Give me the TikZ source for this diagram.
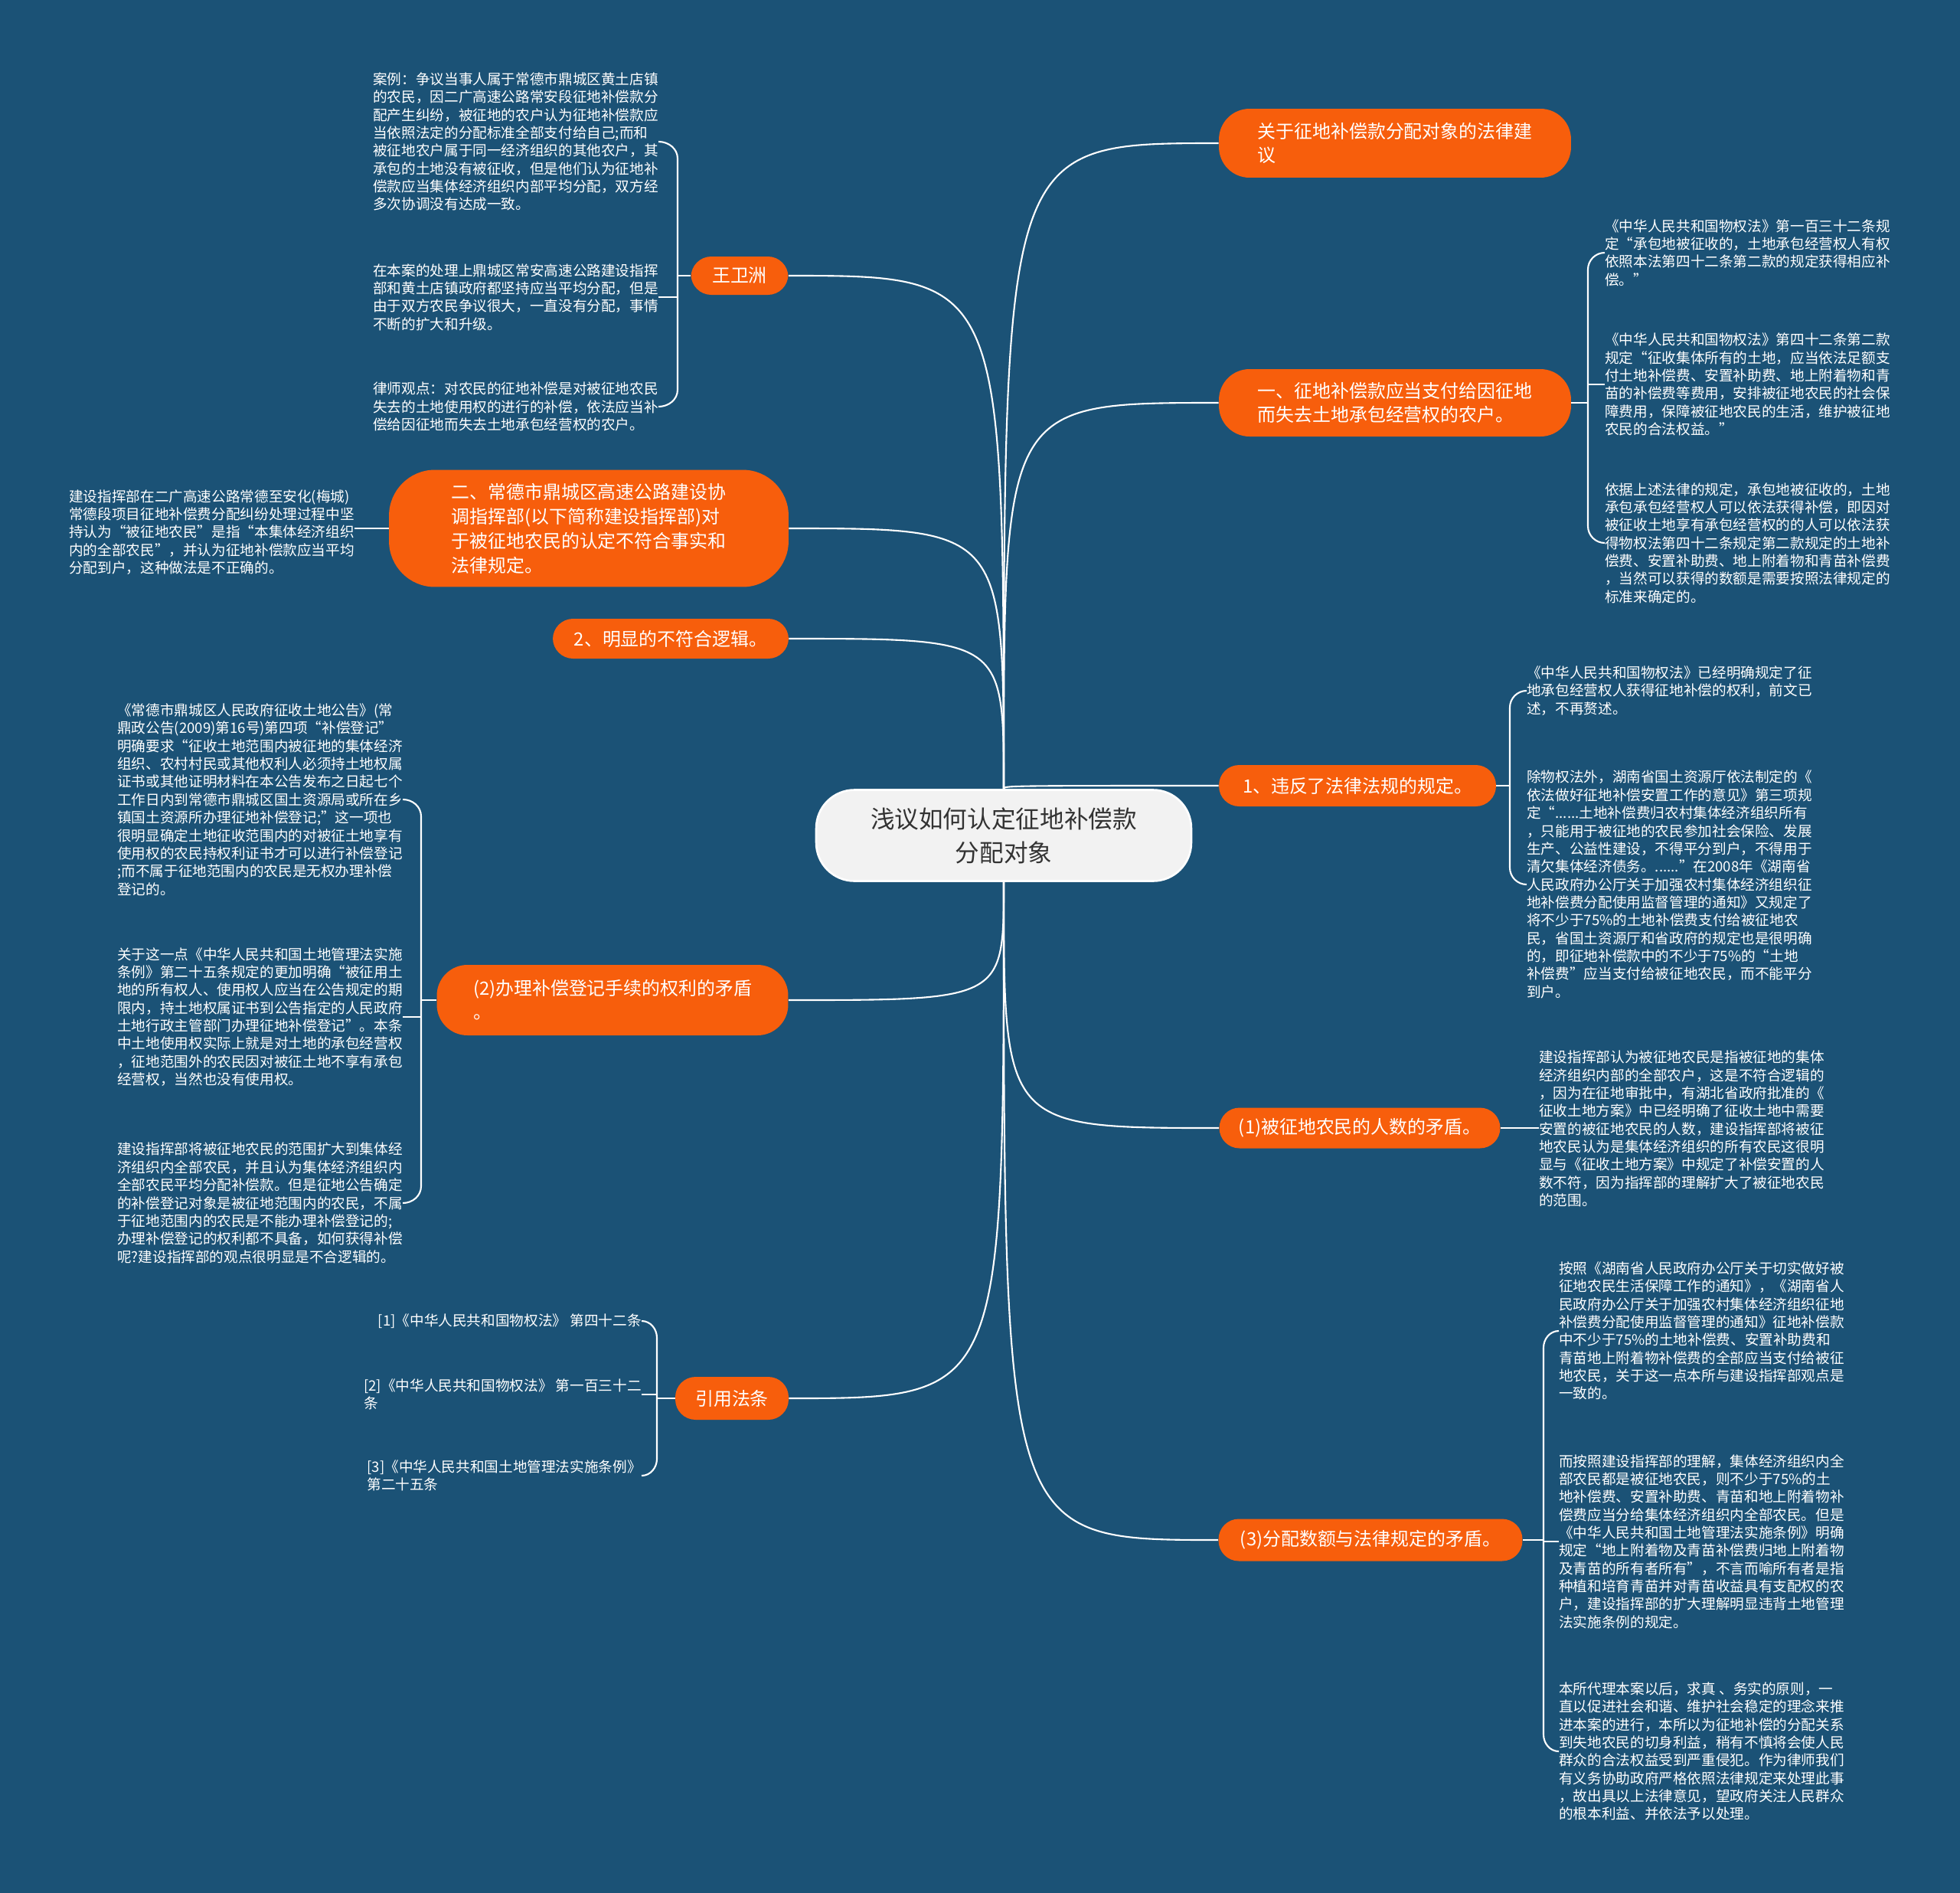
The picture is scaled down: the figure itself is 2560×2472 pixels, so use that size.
\documentclass[tikz,border=0pt]{standalone}
\usepackage{fontspec}
\setmainfont{Noto Sans CJK SC}
\usepackage{tikz}
\usetikzlibrary{calc,backgrounds}

\definecolor{bgblue}{RGB}{27,82,118}
\definecolor{topicorange}{RGB}{247,94,12}
\definecolor{rootgray}{RGB}{242,242,242}
\definecolor{roottext}{RGB}{51,51,51}

\begin{document}
\begin{tikzpicture}[x=0.02cm,y=-0.02cm,
  root/.style={draw=white,line width=1.5pt,fill=rootgray,text=roottext,rounded corners=1cm,align=center,inner sep=0pt,font=\fontsize{18}{25}\selectfont},
  topic/.style={fill=topicorange,text=white,rounded corners=0.53cm,align=left,inner sep=0pt,font=\fontsize{13.6}{17.6}\selectfont},
  leaf/.style={text=white,align=left,inner sep=0pt,font=\fontsize{10.6}{13.3}\selectfont},
  link/.style={draw=white,line width=1.2pt}]

\useasboundingbox (0,0) rectangle (2560,2472);

% centre
\node[root,minimum width=9.8cm,minimum height=2.38cm] (root) at (1311,1091) {浅议如何认定征地补偿款\\分配对象};

% right topics
\node[topic,rounded corners=0.8cm,minimum width=9.2cm,minimum height=1.8cm] (quan) at (1822,187) {关于征地补偿款分配对象的法律建\\议};
\node[topic,rounded corners=0.8cm,minimum width=9.2cm,minimum height=1.76cm] (yi) at (1822,526) {一、征地补偿款应当支付给因征地\\而失去土地承包经营权的农户。};
\node[topic,minimum width=7.24cm,minimum height=1.08cm] (wf) at (1773,1026) {1、违反了法律法规的规定。};
\node[topic,minimum width=7.34cm,minimum height=1.06cm] (rs) at (1776,1473) {(1)被征地农民的人数的矛盾。};
\node[topic,minimum width=7.94cm,minimum height=1.1cm] (fp) at (1790,2011) {(3)分配数额与法律规定的矛盾。};

% left topics
\node[topic,minimum width=2.54cm,minimum height=1cm] (wang) at (966,360) {王卫洲};
\node[topic,rounded corners=1.2cm,minimum width=10.44cm,minimum height=3.06cm,font=\fontsize{13.6}{18.2}\selectfont] (er) at (769,690) {二、常德市鼎城区高速公路建设协\\调指挥部(以下简称建设指挥部)对\\于被征地农民的认定不符合事实和\\法律规定。};
\node[topic,minimum width=6.16cm,minimum height=1.04cm] (lj) at (876,834) {2、明显的不符合逻辑。};
\node[topic,rounded corners=0.8cm,minimum width=9.18cm,minimum height=1.84cm] (ql) at (800,1306) {(2)办理补偿登记手续的权利的矛盾\\。};
\node[topic,minimum width=2.96cm,minimum height=1.12cm] (yy) at (956,1826) {引用法条};

% leaves of 王卫洲
\node[leaf,anchor=west] (w1) at (487,185) {案例：争议当事人属于常德市鼎城区黄土店镇\\
的农民，因二广高速公路常安段征地补偿款分\\
配产生纠纷，被征地的农户认为征地补偿款应\\
当依照法定的分配标准全部支付给自己;而和\\
被征地农户属于同一经济组织的其他农户，其\\
承包的土地没有被征收，但是他们认为征地补\\
偿款应当集体经济组织内部平均分配，双方经\\
多次协调没有达成一致。};
\node[leaf,anchor=west] (w2) at (487,388) {在本案的处理上鼎城区常安高速公路建设指挥\\
部和黄土店镇政府都坚持应当平均分配，但是\\
由于双方农民争议很大，一直没有分配，事情\\
不断的扩大和升级。};
\node[leaf,anchor=west] (w3) at (487,531) {律师观点：对农民的征地补偿是对被征地农民\\
失去的土地使用权的进行的补偿，依法应当补\\
偿给因征地而失去土地承包经营权的农户。};

% leaf of 二
\node[leaf,anchor=west] (e1) at (90,695) {建设指挥部在二广高速公路常德至安化(梅城)\\
常德段项目征地补偿费分配纠纷处理过程中坚\\
持认为“被征地农民”是指“本集体经济组织\\
内的全部农民”，并认为征地补偿款应当平均\\
分配到户，这种做法是不正确的。};

% leaves of (2)
\node[leaf,anchor=west] (q1) at (153,1044) {《常德市鼎城区人民政府征收土地公告》(常\\
鼎政公告(2009)第16号)第四项“补偿登记”\\
明确要求“征收土地范围内被征地的集体经济\\
组织、农村村民或其他权利人必须持土地权属\\
证书或其他证明材料在本公告发布之日起七个\\
工作日内到常德市鼎城区国土资源局或所在乡\\
镇国土资源所办理征地补偿登记;”这一项也\\
很明显确定土地征收范围内的对被征土地享有\\
使用权的农民持权利证书才可以进行补偿登记\\
;而不属于征地范围内的农民是无权办理补偿\\
登记的。};
\node[leaf,anchor=west] (q2) at (153,1328) {关于这一点《中华人民共和国土地管理法实施\\
条例》第二十五条规定的更加明确“被征用土\\
地的所有权人、使用权人应当在公告规定的期\\
限内，持土地权属证书到公告指定的人民政府\\
土地行政主管部门办理征地补偿登记”。本条\\
中土地使用权实际上就是对土地的承包经营权\\
，征地范围外的农民因对被征土地不享有承包\\
经营权，当然也没有使用权。};
\node[leaf,anchor=west] (q3) at (153,1571) {建设指挥部将被征地农民的范围扩大到集体经\\
济组织内全部农民，并且认为集体经济组织内\\
全部农民平均分配补偿款。但是征地公告确定\\
的补偿登记对象是被征地范围内的农民，不属\\
于征地范围内的农民是不能办理补偿登记的;\\
办理补偿登记的权利都不具备，如何获得补偿\\
呢?建设指挥部的观点很明显是不合逻辑的。};

% leaves of 引用法条
\node[leaf,anchor=east] (y1) at (838,1725) {[1]《中华人民共和国物权法》 第四十二条};
\node[leaf,anchor=east] (y2) at (838,1821) {[2]《中华人民共和国物权法》 第一百三十二\\条};
\node[leaf,anchor=east] (y3) at (838,1927) {[3]《中华人民共和国土地管理法实施条例》\\第二十五条};

% leaves of 一、
\node[leaf,anchor=west] (r1) at (2096,330) {《中华人民共和国物权法》第一百三十二条规\\
定“承包地被征收的，土地承包经营权人有权\\
依照本法第四十二条第二款的规定获得相应补\\
偿。”};
\node[leaf,anchor=west] (r2) at (2096,502) {《中华人民共和国物权法》第四十二条第二款\\
规定“征收集体所有的土地，应当依法足额支\\
付土地补偿费、安置补助费、地上附着物和青\\
苗的补偿费等费用，安排被征地农民的社会保\\
障费用，保障被征地农民的生活，维护被征地\\
农民的合法权益。”};
\node[leaf,anchor=west] (r3) at (2096,709) {依据上述法律的规定，承包地被征收的，土地\\
承包承包经营权人可以依法获得补偿，即因对\\
被征收土地享有承包经营权的的人可以依法获\\
得物权法第四十二条规定第二款规定的土地补\\
偿费、安置补助费、地上附着物和青苗补偿费\\
，当然可以获得的数额是需要按照法律规定的\\
标准来确定的。};

% leaves of 1、
\node[leaf,anchor=west] (r4) at (1994,902) {《中华人民共和国物权法》已经明确规定了征\\
地承包经营权人获得征地补偿的权利，前文已\\
述，不再赘述。};
\node[leaf,anchor=west] (r5) at (1994,1155) {除物权法外，湖南省国土资源厅依法制定的《\\
依法做好征地补偿安置工作的意见》第三项规\\
定“......土地补偿费归农村集体经济组织所有\\
，只能用于被征地的农民参加社会保险、发展\\
生产、公益性建设，不得平分到户，不得用于\\
清欠集体经济债务。......”在2008年《湖南省\\
人民政府办公厅关于加强农村集体经济组织征\\
地补偿费分配使用监督管理的通知》又规定了\\
将不少于75\%的土地补偿费支付给被征地农\\
民，省国土资源厅和省政府的规定也是很明确\\
的，即征地补偿款中的不少于75\%的“土地\\
补偿费”应当支付给被征地农民，而不能平分\\
到户。};

% leaf of (1)
\node[leaf,anchor=west] (r6) at (2010,1474) {建设指挥部认为被征地农民是指被征地的集体\\
经济组织内部的全部农户，这是不符合逻辑的\\
，因为在征地审批中，有湖北省政府批准的《\\
征收土地方案》中已经明确了征收土地中需要\\
安置的被征地农民的人数，建设指挥部将被征\\
地农民认为是集体经济组织的所有农民这很明\\
显与《征收土地方案》中规定了补偿安置的人\\
数不符，因为指挥部的理解扩大了被征地农民\\
的范围。};

% leaves of (3)
\node[leaf,anchor=west] (r7) at (2036,1738) {按照《湖南省人民政府办公厅关于切实做好被\\
征地农民生活保障工作的通知》，《湖南省人\\
民政府办公厅关于加强农村集体经济组织征地\\
补偿费分配使用监督管理的通知》征地补偿款\\
中不少于75\%的土地补偿费、安置补助费和\\
青苗地上附着物补偿费的全部应当支付给被征\\
地农民，关于这一点本所与建设指挥部观点是\\
一致的。};
\node[leaf,anchor=west] (r8) at (2036,2013) {而按照建设指挥部的理解，集体经济组织内全\\
部农民都是被征地农民，则不少于75\%的土\\
地补偿费、安置补助费、青苗和地上附着物补\\
偿费应当分给集体经济组织内全部农民。但是\\
《中华人民共和国土地管理法实施条例》明确\\
规定“地上附着物及青苗补偿费归地上附着物\\
及青苗的所有者所有”，不言而喻所有者是指\\
种植和培育青苗并对青苗收益具有支配权的农\\
户，建设指挥部的扩大理解明显违背土地管理\\
法实施条例的规定。};
\node[leaf,anchor=west] (r9) at (2036,2287) {本所代理本案以后，求真 、务实的原则，一\\
直以促进社会和谐、维护社会稳定的理念来推\\
进本案的进行，本所以为征地补偿的分配关系\\
到失地农民的切身利益，稍有不慎将会使人民\\
群众的合法权益受到严重侵犯。作为律师我们\\
有义务协助政府严格依照法律规定来处理此事\\
，故出具以上法律意见，望政府关注人民群众\\
的根本利益、并依法予以处理。};

% brace points
\coordinate (wbr) at (885,360);
\coordinate (qbr) at (550,1306);
\coordinate (ybr) at (858,1826);
\coordinate (yibr) at (2074,526);
\coordinate (wfbr) at (1972,1026);
\coordinate (fpbr) at (2016,2011);

\begin{scope}[on background layer]
\fill[bgblue] (0,0) rectangle (2560,2472);

% branches from the centre
\draw[link] (root.north) .. controls (root.north |- quan.west) .. (quan.west);
\draw[link] (root.north) .. controls (root.north |- yi.west) .. (yi.west);
\draw[link] (root.north) .. controls (root.north |- wf.west) .. (wf.west);
\draw[link] (root.north) .. controls (root.north |- wang.east) .. (wang.east);
\draw[link] (root.north) .. controls (root.north |- er.east) .. (er.east);
\draw[link] (root.north) .. controls (root.north |- lj.east) .. (lj.east);
\draw[link] (root.south) .. controls (root.south |- ql.east) .. (ql.east);
\draw[link] (root.south) .. controls (root.south |- yy.east) .. (yy.east);
\draw[link] (root.south) .. controls (root.south |- rs.west) .. (rs.west);
\draw[link] (root.south) .. controls (root.south |- fp.west) .. (fp.west);

% left braces
\draw[link] (w1.east) to[out=0,in=90] ($(w1.east -| wbr)+(0,22)$) -- ($(w3.east -| wbr)+(0,-22)$) to[out=-90,in=0] (w3.east);
\draw[link] (w2.east) -- (w2.east -| wbr);
\draw[link] (wbr) -- (wang.west);

\draw[link] (e1.east |- er.west) -- (er.west);

\draw[link] (q1.east) to[out=0,in=90] ($(q1.east -| qbr)+(0,22)$) -- ($(q3.east -| qbr)+(0,-22)$) to[out=-90,in=0] (q3.east);
\draw[link] (q2.east) -- (q2.east -| qbr);
\draw[link] (qbr) -- (ql.west);

\draw[link] (y1.east) to[out=0,in=90] ($(y1.east -| ybr)+(0,22)$) -- ($(y3.east -| ybr)+(0,-22)$) to[out=-90,in=0] (y3.east);
\draw[link] (y2.east) -- (y2.east -| ybr);
\draw[link] (ybr) -- (yy.west);

% right braces
\draw[link] (r1.west) to[out=180,in=90] ($(r1.west -| yibr)+(0,22)$) -- ($(r3.west -| yibr)+(0,-22)$) to[out=-90,in=180] (r3.west);
\draw[link] (r2.west) -- (r2.west -| yibr);
\draw[link] (yi.east) -- (yibr);

\draw[link] (r4.west) to[out=180,in=90] ($(r4.west -| wfbr)+(0,22)$) -- ($(r5.west -| wfbr)+(0,-22)$) to[out=-90,in=180] (r5.west);
\draw[link] (wf.east) -- (wfbr);

\draw[link] (rs.east) -- (rs.east -| r6.west);

\draw[link] (r7.west) to[out=180,in=90] ($(r7.west -| fpbr)+(0,22)$) -- ($(r9.west -| fpbr)+(0,-22)$) to[out=-90,in=180] (r9.west);
\draw[link] (r8.west) -- (r8.west -| fpbr);
\draw[link] (fp.east) -- (fpbr);
\end{scope}

\end{tikzpicture}
\end{document}
